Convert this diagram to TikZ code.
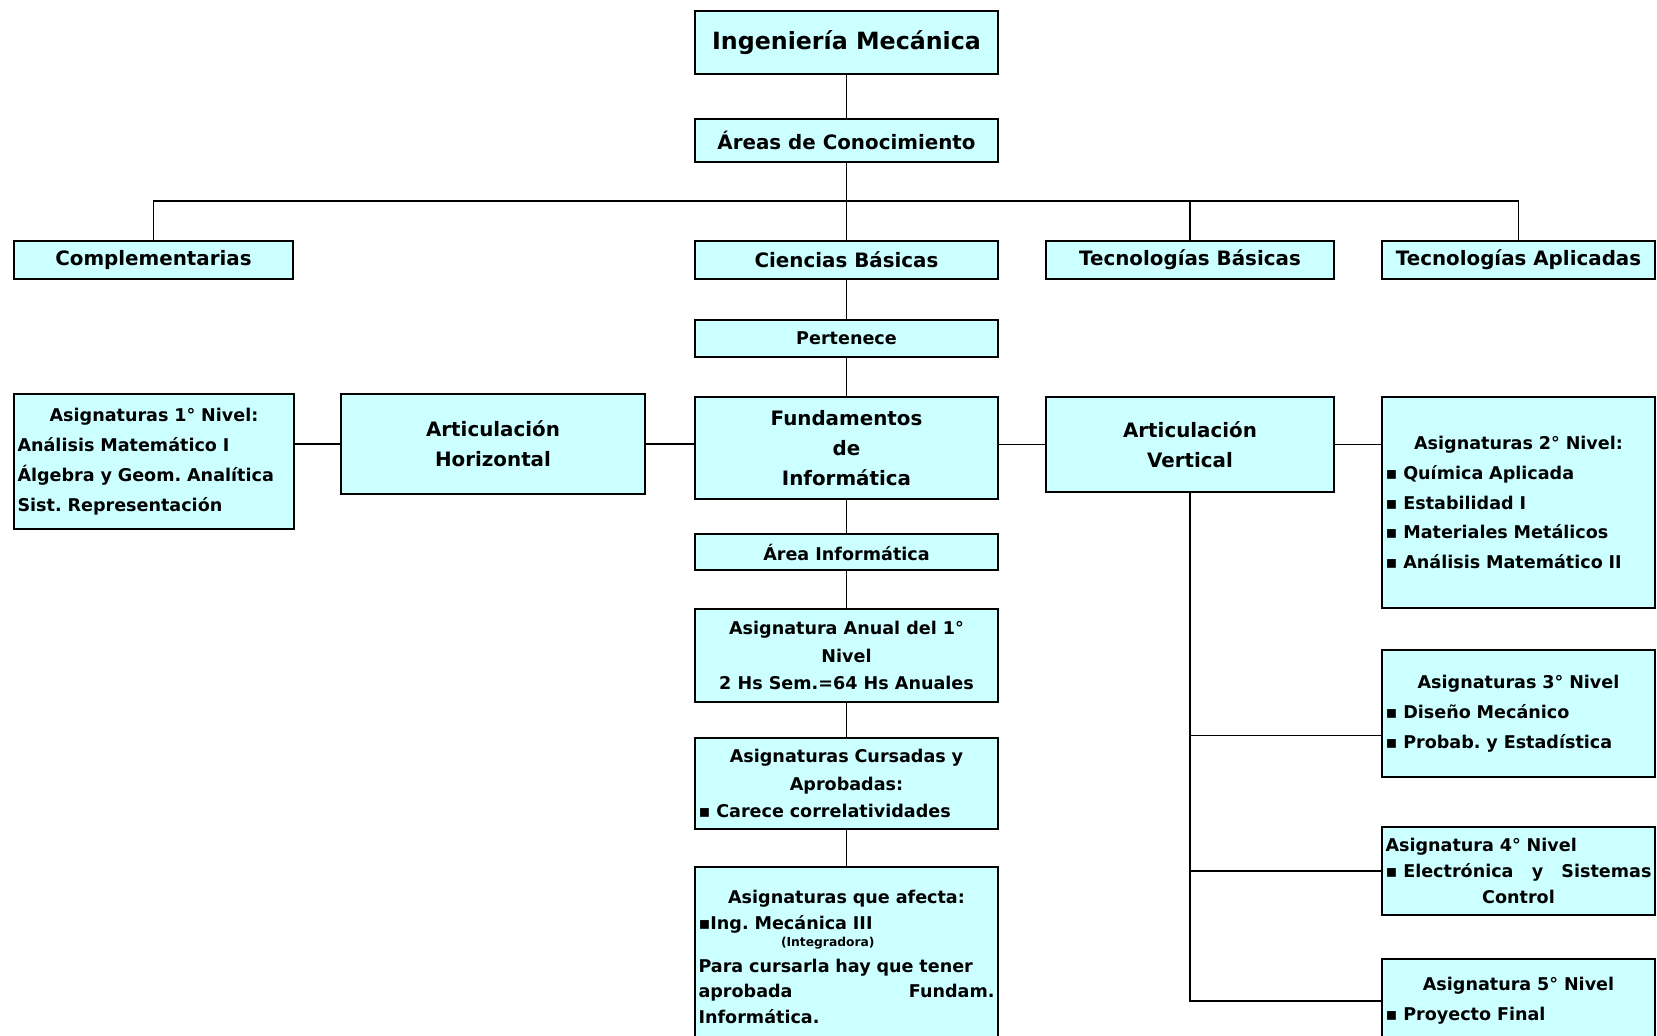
\documentclass[tikz,border=0pt]{standalone}
\usepackage{fontspec}
\setmainfont{DejaVu Sans}
\usepackage{xcolor}
\usepackage{tikz}
\usetikzlibrary{positioning}

\definecolor{boxcyan}{RGB}{204,255,255}
\newcommand{\headfont}{\fontsize{13.5}{16}\selectfont\bfseries}
\newcommand{\midfont}{\fontsize{11.3}{17}\selectfont\bfseries}
\newcommand{\listfont}{\fontsize{10}{17}\selectfont\bfseries}
\frenchspacing

\begin{document}
\begin{tikzpicture}[
    x=0.02cm, y=-0.02cm,
    box/.style={
        draw,
        line width=1.1pt,
        fill=boxcyan,
        inner sep=2pt,
        align=center,
        font=\midfont
    },
    listbox/.style={
        box,
        align=left,
        font=\listfont
    },
    link/.style={line width=1.1pt}
]
\useasboundingbox (0,0) rectangle (1657,1035);

% top of the tree
\node[box, font=\headfont, minimum width=6.06cm, minimum height=1.26cm] (ing) at (846.5,42.5) {Ingeniería Mecánica};
\node[box, minimum width=6.06cm, minimum height=0.86cm] (areas) at (846.5,140.5) {Áreas de Conocimiento};

\node[box, minimum width=5.58cm, minimum height=0.76cm] (compl) at (153.5,260) {Complementarias};
\node[box, minimum width=6.06cm, minimum height=0.76cm] (cienc) at (846.5,260) {Ciencias Básicas};
\node[box, minimum width=5.76cm, minimum height=0.76cm] (tecb) at (1190,260) {Tecnologías Básicas};
\node[box, minimum width=5.46cm, minimum height=0.76cm] (teca) at (1518.5,260) {Tecnologías Aplicadas};

\node[box, font=\listfont, minimum width=6.06cm, minimum height=0.74cm] (pert) at (846.5,338.5) {Pertenece};

% middle row
\node[listbox, minimum width=5.6cm, minimum height=2.7cm, text width=5.46cm] (asig1) at (154,461.5)
    {{\centering Asignaturas 1° Nivel:\par}
     Análisis Matemático I\\
     Álgebra y Geom. Analítica\\
     Sist. Representación};
\node[box, minimum width=6.08cm, minimum height=2.0cm] (artH) at (493,444) {Articulación\\Horizontal};
\node[box, minimum width=6.06cm, minimum height=2.04cm] (fund) at (846.5,448) {Fundamentos\\de\\Informática};
\node[box, minimum width=5.76cm, minimum height=1.9cm] (artV) at (1190,444.5) {Articulación\\Vertical};
\node[listbox, minimum width=5.46cm, minimum height=4.22cm, text width=5.32cm] (asig2) at (1518.5,502.5)
    {{\centering Asignaturas 2° Nivel:\par}
     ▪ Química Aplicada\\
     ▪ Estabilidad I\\
     ▪ Materiales Metálicos\\
     ▪ Análisis Matemático II};

% central column
\node[box, font=\listfont, minimum width=6.06cm, minimum height=0.72cm] (areainf) at (846.5,552) {Área Informática};
\node[box, font=\fontsize{10}{15.5}\selectfont\bfseries, minimum width=6.06cm, minimum height=1.86cm] (anual) at (846.5,655.5)
    {Asignatura Anual del 1°\\Nivel\\2 Hs Sem.=64 Hs Anuales};
\node[listbox, font=\fontsize{10}{15.5}\selectfont\bfseries, minimum width=6.06cm, minimum height=1.82cm, text width=5.92cm] (cursadas) at (846.5,783.5)
    {{\centering Asignaturas Cursadas y\\Aprobadas:\par}
     ▪ Carece correlatividades};
\node[listbox, anchor=north, font=\fontsize{10}{14.5}\selectfont\bfseries, minimum width=6.06cm, minimum height=3.6cm, text width=5.92cm] (afecta) at (846.5,866)
    {{\centering Asignaturas que afecta:\par}
     ▪Ing. Mecánica III\par
     {\fontsize{7}{10}\selectfont\hspace*{1.65cm}(Integradora)\par}
     \makebox[\linewidth][s]{Para cursarla hay que tener}\par
     \makebox[\linewidth][s]{aprobada\hfill Fundam.}\par
     Informática.};

% right column
\node[listbox, minimum width=5.46cm, minimum height=2.54cm, text width=5.32cm] (asig3) at (1518.5,713.5)
    {{\centering Asignaturas 3° Nivel\par}
     ▪ Diseño Mecánico\\
     ▪ Probab. y Estadística};
\node[listbox, font=\fontsize{10}{15}\selectfont\bfseries, minimum width=5.46cm, minimum height=1.76cm, text width=5.32cm] (asig4) at (1518.5,871)
    {Asignatura 4° Nivel\par
     \makebox[\linewidth][s]{▪ Electrónica\hfill y\hfill Sistemas}\par
     {\centering Control\par}};
\node[listbox, anchor=north, minimum width=5.46cm, minimum height=1.68cm, text width=5.32cm] (asig5) at (1518.5,958)
    {{\centering Asignatura 5° Nivel\par}
     ▪ Proyecto Final};

% connectors
\coordinate (bus) at (846.5,201);
\path (asig3.west) ++(0,22) coordinate (branch3);

\draw[link] (ing) -- (areas);
\draw[link] (areas) -- (cienc);
\draw[link] (compl.north) |- (bus) -| (teca.north);
\draw[link] (bus) -| (tecb.north);
\draw[link] (cienc) -- (pert);
\draw[link] (pert) -- (fund);
\draw[link] (fund) -- (areainf);
\draw[link] (areainf) -- (anual);
\draw[link] (anual) -- (cursadas);
\draw[link] (cursadas) -- (afecta);
\draw[link] (artH.west) -- (artH.west -| asig1.east);
\draw[link] (artH.east) -- (artH.east -| fund.west);
\draw[link] (fund.east |- artV.west) -- (artV.west);
\draw[link] (artV.east) -- (artV.east -| asig2.west);
\draw[link] (artV.south) |- (asig5.west);
\draw[link] (artV.south |- branch3) -- (branch3);
\draw[link] (asig4.west) -- (asig4.west -| artV.south);
\end{tikzpicture}
\end{document}
